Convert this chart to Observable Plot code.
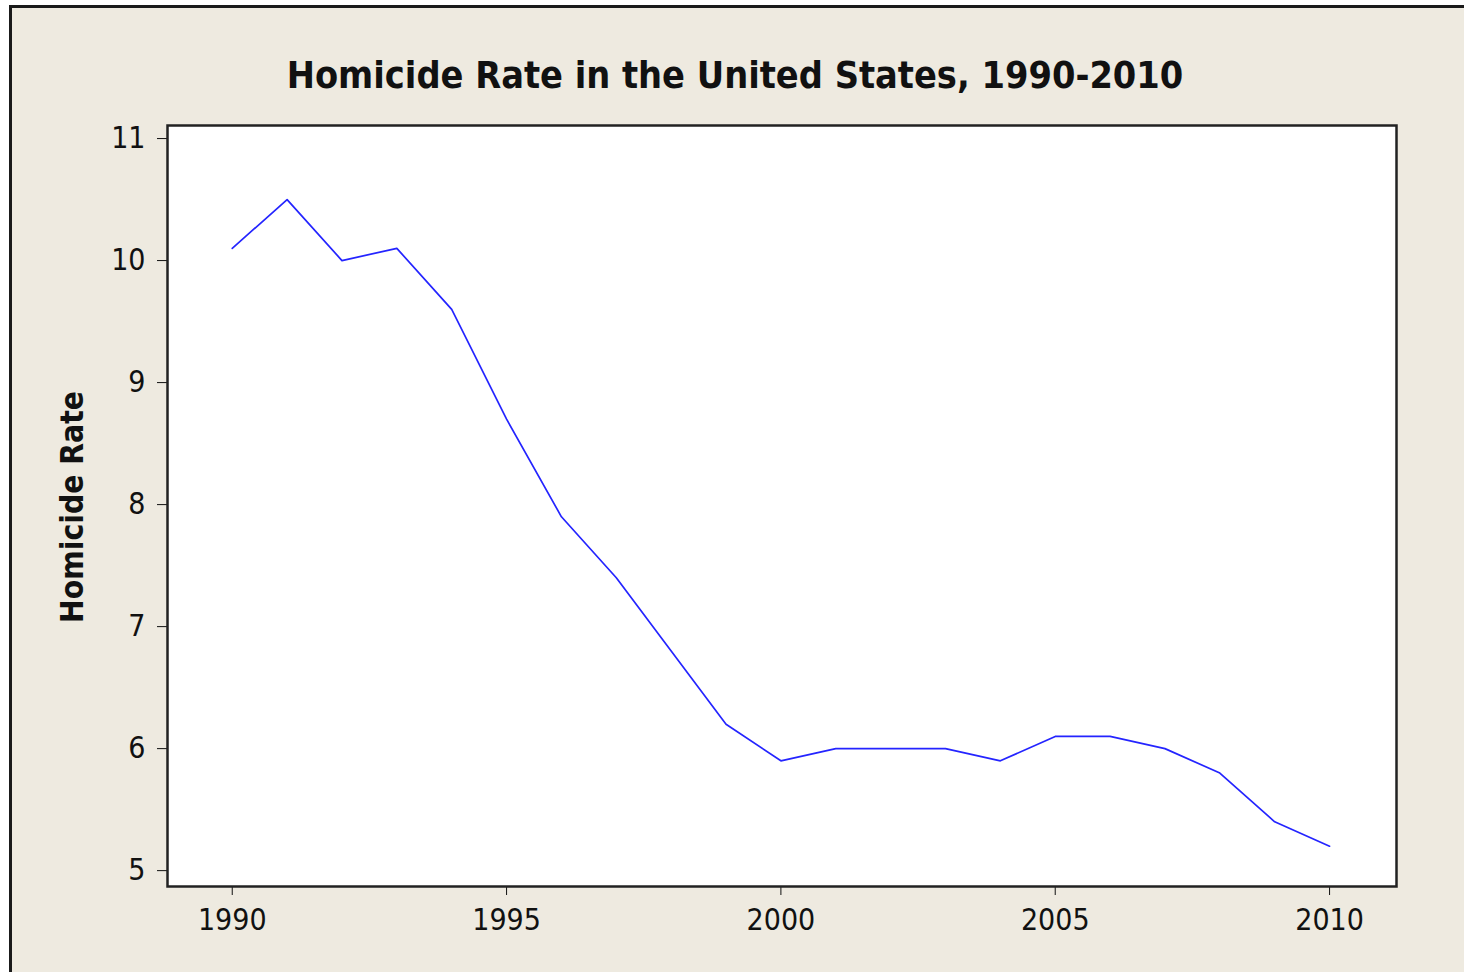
<!DOCTYPE html>
<html><head><meta charset="utf-8">
<script src="https://cdn.jsdelivr.net/npm/d3@7"></script>
<script src="https://cdn.jsdelivr.net/npm/@observablehq/plot@0.6"></script>
<style>
html,body{margin:0;padding:0;background:#ffffff;width:1464px;height:972px;overflow:hidden;}
#frame{position:absolute;left:9px;top:5px;width:1520px;height:1020px;border-left:3px solid #1a1a1a;border-top:3px solid #1a1a1a;background:#EEEAE0;}
#chart{position:absolute;left:0;top:0;}
#title{position:absolute;left:0;top:53px;width:1470px;text-align:center;font-family:"DejaVu Sans Condensed","DejaVu Sans",sans-serif;font-weight:bold;font-size:37.5px;color:#111;white-space:nowrap;}
#ylabel{position:absolute;left:72px;top:507px;transform:translate(-50%,-50%) rotate(-90deg);font-family:"DejaVu Sans Condensed","DejaVu Sans",sans-serif;font-weight:bold;font-size:31.5px;color:#111;white-space:nowrap;}
</style>
</head>
<body>
<div id="frame"></div>
<div id="chart"></div>
<div id="title">Homicide Rate in the United States, 1990-2010</div>
<div id="ylabel">Homicide Rate</div>
<script>
const years = [1990,1991,1992,1993,1994,1995,1996,1997,1998,1999,2000,2001,2002,2003,2004,2005,2006,2007,2008,2009,2010];
const rates = [10.1,10.5,10.0,10.1,9.6,8.7,7.9,7.4,6.8,6.2,5.9,6.0,6.0,6.0,5.9,6.1,6.1,6.0,5.8,5.4,5.2];
const xTicks = [1990,1995,2000,2005,2010];
const yTicks = [5,6,7,8,9,10,11];

const data = years.map((y,i)=>({year:y, rate:rates[i]}));

const chart = Plot.plot({
  width:1464, height:972,
  marginLeft:167, marginRight:68, marginTop:125, marginBottom:86,
  style:{background:"transparent", fontFamily:"'DejaVu Sans Condensed','DejaVu Sans',sans-serif", fontSize:"30px", color:"#111"},
  x:{domain:[1988.82,2011.22], ticks:xTicks, tickFormat:d=>String(d), tickSize:9, tickPadding:13, label:null},
  y:{domain:[4.87,11.107], ticks:yTicks, tickFormat:d=>String(d), tickSize:10, tickPadding:12, label:null},
  marks:[
    Plot.frame({fill:"white", stroke:"none"}),
    Plot.line(data,{x:"year", y:"rate", stroke:"#2424ff", strokeWidth:1.7}),
    Plot.frame({stroke:"#222", strokeWidth:2.5})
  ]
});
document.getElementById("chart").appendChild(chart);
</script>
</body></html>
